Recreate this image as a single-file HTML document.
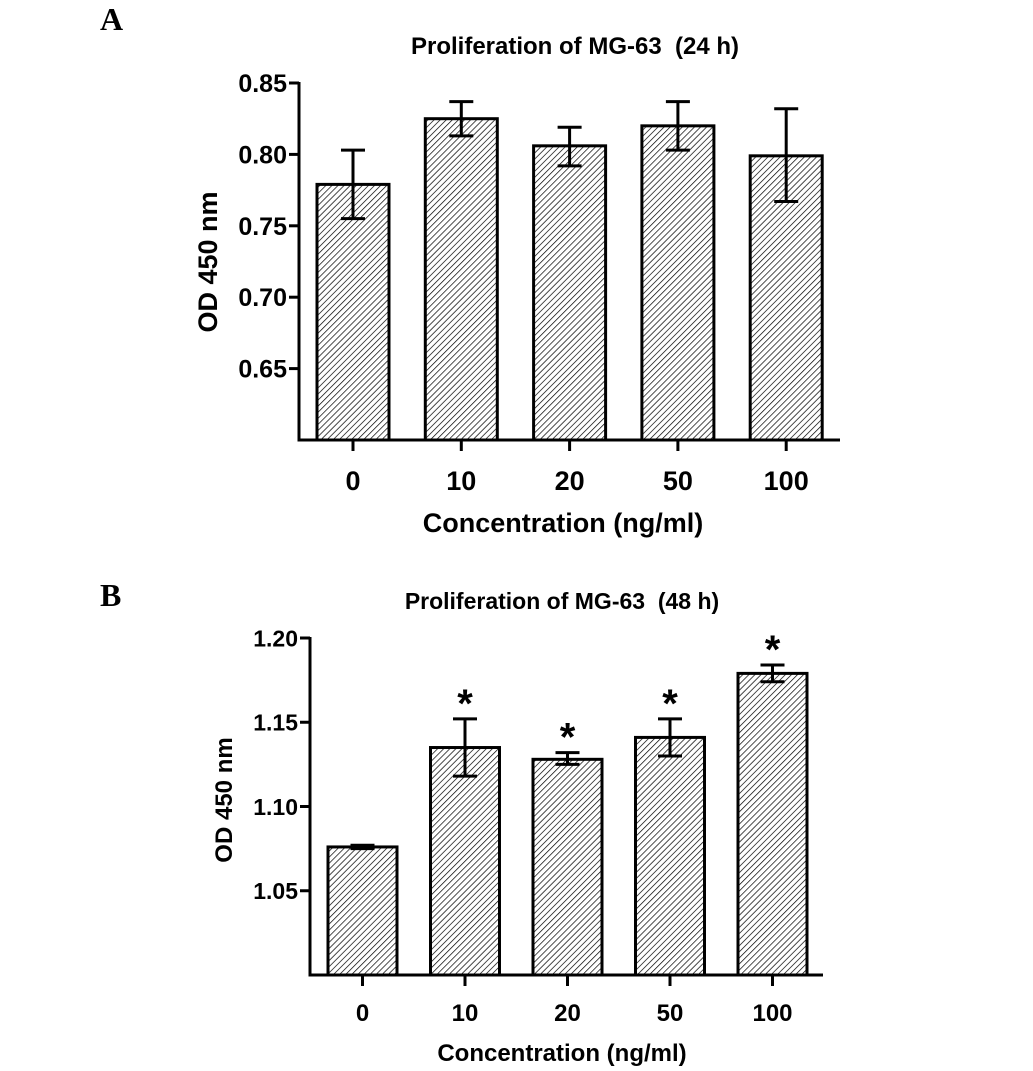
<!DOCTYPE html>
<html><head><meta charset="utf-8"><style>
body{margin:0;background:#fff}
svg{display:block}
text{font-family:"Liberation Sans",sans-serif;font-weight:bold;fill:#000}
</style></head><body>
<svg id="svg" width="1033" height="1071" viewBox="0 0 1033 1071">
<defs>
<pattern id="hatch" patternUnits="userSpaceOnUse" width="4.3" height="4.3" patternTransform="rotate(45)">
<rect width="4.3" height="4.3" fill="#fff"/>
<line x1="0" y1="0" x2="0" y2="4.3" stroke="#000" stroke-width="1.4"/>
</pattern>
</defs>
<text x="100" y="30" style="font-family:'Liberation Serif',serif;font-size:32px;font-weight:bold">A</text>
<text x="100" y="606" style="font-family:'Liberation Serif',serif;font-size:32px;font-weight:bold">B</text>
</svg>
<script>
const categories = ["0","10","20","50","100"];
const meansA = [0.779, 0.825, 0.806, 0.820, 0.799];
const errHiA = [0.803, 0.837, 0.819, 0.837, 0.832];
const errLoA = [0.755, 0.813, 0.792, 0.803, 0.767];
const ticksA = ["0.85","0.80","0.75","0.70","0.65"];
const meansB = [1.076, 1.135, 1.128, 1.141, 1.179];
const errHiB = [1.077, 1.152, 1.132, 1.152, 1.184];
const errLoB = [1.075, 1.118, 1.125, 1.130, 1.174];
const sigB = [false, true, true, true, true];
const ticksB = ["1.20","1.15","1.10","1.05"];

const svg = document.getElementById('svg');
const NS = 'http://www.w3.org/2000/svg';
function mk(tag, attrs){const e=document.createElementNS(NS,tag);for(const k in attrs)e.setAttribute(k,attrs[k]);svg.appendChild(e);return e;}

function panel(cfg){
  const y = v => cfg.yBot - (v - cfg.vMin) / (cfg.vMax - cfg.vMin) * (cfg.yBot - cfg.yTop);
  const x = i => cfg.xAxis + cfg.firstOff + i * cfg.step;
  categories.forEach((c,i)=>{
    const cx = x(i), v = cfg.means[i];
    const r = mk('rect',{x:cx-cfg.bw/2,y:y(v),width:cfg.bw,height:cfg.yBot-y(v),fill:'url(#hatch)',stroke:'#000','stroke-width':3});
    
    
    const g = mk('path',{d:`M${cx},${y(cfg.hi[i])}V${y(cfg.lo[i])}M${cx-12},${y(cfg.hi[i])}H${cx+12}M${cx-12},${y(cfg.lo[i])}H${cx+12}`,stroke:'#000','stroke-width':3,fill:'none'});
    
    
    const tk = mk('line',{x1:cx,x2:cx,y1:cfg.yBot,y2:cfg.yBot+11,stroke:'#000','stroke-width':3});
    
    
    const t = mk('text',{x:cx,y:cfg.yBot+cfg.xlOff,'text-anchor':'middle','font-size':cfg.fs});
    t.textContent = c;
    
    
    if(cfg.sig && cfg.sig[i]){
      const s = mk('text',{x:cx,y:y(cfg.hi[i])-2,'text-anchor':'middle','font-size':40});
      s.textContent='*';
      
      
    }
  });
  const ax = mk('path',{d:`M${cfg.xAxis},${cfg.yTop-1}V${cfg.yBot}H${cfg.xEnd}`,stroke:'#000','stroke-width':3,fill:'none'});
  
  
  cfg.ticks.forEach(t=>{
    const yy = y(parseFloat(t));
    const l = mk('line',{x1:cfg.xAxis-10,x2:cfg.xAxis,y1:yy,y2:yy,stroke:'#000','stroke-width':3});
    
    
    const tx = mk('text',{x:cfg.xAxis-12,y:yy+cfg.tfs*0.36,'text-anchor':'end','font-size':cfg.tfs});
    tx.textContent = t;
    
    
  });
  const yt = mk('text',{x:0,y:0,'text-anchor':'middle','font-size':cfg.fs,transform:`translate(${cfg.ytx},${cfg.yty}) rotate(-90)`});
  yt.textContent='OD 450 nm';
  
  
  const xt = mk('text',{x:cfg.xtx,y:cfg.yBot+cfg.xtOff,'text-anchor':'middle','font-size':cfg.fs});
  xt.textContent='Concentration (ng/ml)';
  
  
  const tt = mk('text',{x:cfg.ttx,y:cfg.tty,'text-anchor':'middle','font-size':cfg.ttfs});
  tt.textContent=cfg.title;
  
  
}

panel({id:'a',means:meansA,hi:errHiA,lo:errLoA,ticks:ticksA,vMin:0.60,vMax:0.85,yTop:83,yBot:440,xAxis:299,xEnd:840,
  firstOff:54,step:108.3,bw:72,fs:27,tfs:25,ytx:217,yty:262,xtx:563,ttx:575,tty:54,ttfs:24,xlOff:50,xtOff:92,title:'Proliferation of MG-63\u00a0 (24 h)'});
panel({id:'b',means:meansB,hi:errHiB,lo:errLoB,ticks:ticksB,sig:sigB,vMin:1.00,vMax:1.20,yTop:638,yBot:975,xAxis:310,xEnd:823,
  firstOff:52.5,step:102.5,bw:69,fs:24,tfs:23,ytx:232,yty:800,xtx:562,ttx:562,tty:609,ttfs:23,xlOff:46,xtOff:86,title:'Proliferation of MG-63\u00a0 (48 h)'});
</script>
</body></html>
